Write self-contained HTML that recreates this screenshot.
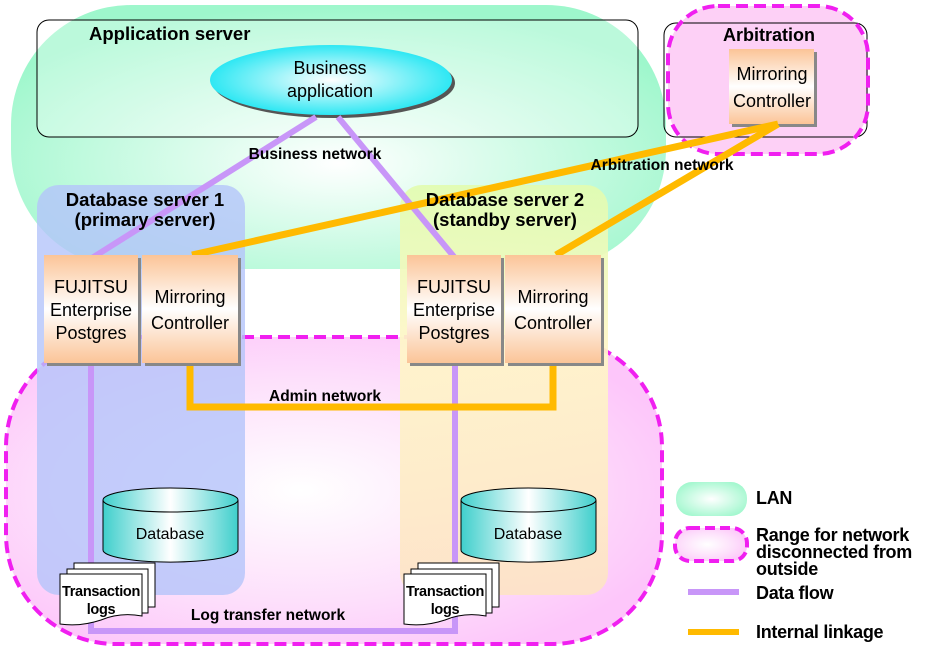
<!DOCTYPE html>
<html><head><meta charset="utf-8"><style>
html,body{margin:0;padding:0;background:#fff;}
svg{display:block;font-family:"Liberation Sans",Arial,sans-serif;}
.b{font-weight:bold;}
</style></head><body>
<svg width="932" height="650" viewBox="0 0 932 650" xmlns="http://www.w3.org/2000/svg">
<defs>
<radialGradient id="lan" cx="0.5" cy="0.6" r="0.6">
<stop offset="0" stop-color="#ffffff"/><stop offset="1" stop-color="#9ef7cc"/></radialGradient>
<radialGradient id="pink" cx="0.45" cy="0.5" r="0.6">
<stop offset="0" stop-color="#ffffff"/><stop offset="0.6" stop-color="#fde0fb"/><stop offset="1" stop-color="#fdc6fa"/></radialGradient>
<radialGradient id="ell" cx="0.5" cy="0.5" r="0.55">
<stop offset="0" stop-color="#ffffff"/><stop offset="1" stop-color="#19e5f2"/></radialGradient>
<linearGradient id="box" x1="0" y1="0" x2="0" y2="1">
<stop offset="0" stop-color="#fbc497"/><stop offset="0.5" stop-color="#ffffff"/><stop offset="1" stop-color="#fbc497"/></linearGradient>
<linearGradient id="cyl" x1="0" y1="0" x2="1" y2="0">
<stop offset="0" stop-color="#3fcfcc"/><stop offset="0.5" stop-color="#ffffff"/><stop offset="1" stop-color="#3fcfcc"/></linearGradient>
<linearGradient id="db2" x1="0" y1="0" x2="0" y2="1">
<stop offset="0" stop-color="#e2fcb0"/><stop offset="0.4" stop-color="#fff6c8"/><stop offset="1" stop-color="#fde3c6"/></linearGradient>
</defs>

<!-- LAN -->
<rect x="11" y="5" width="655" height="264" rx="120" fill="url(#lan)"/>
<!-- Pink big region -->
<rect x="6" y="337" width="656" height="307" rx="110" fill="url(#pink)" stroke="#f01ff0" stroke-width="4" stroke-dasharray="12,6"/>
<!-- Arbitration pink -->
<rect x="668" y="6" width="200" height="148" rx="50" fill="#fdd0f6"/>
<rect x="664" y="23" width="203" height="114" rx="12" fill="none" stroke="#000" stroke-width="1"/>
<rect x="668" y="6" width="200" height="148" rx="50" fill="none" stroke="#f01ff0" stroke-width="4" stroke-dasharray="12,6"/>

<!-- DB servers -->
<rect x="37" y="185" width="208" height="410" rx="22" fill="#b4c4fa" fill-opacity="0.8"/>
<rect x="400" y="185" width="208" height="410" rx="22" fill="url(#db2)" fill-opacity="0.92"/>

<!-- App server -->
<rect x="37" y="20" width="601" height="117" rx="12" fill="#ffffff" fill-opacity="0.3" stroke="#000" stroke-width="1"/>
<text x="89" y="40" font-size="18.5" class="b">Application server</text>
<ellipse cx="334" cy="83" rx="121" ry="35" fill="#555"/>
<ellipse cx="331" cy="80" rx="121" ry="35" fill="url(#ell)"/>
<text x="330" y="74" font-size="18" text-anchor="middle">Business</text>
<text x="330" y="97" font-size="18" text-anchor="middle">application</text>

<text x="723" y="41" font-size="18" class="b">Arbitration</text>
<rect x="732" y="52" width="85" height="75" fill="#888"/>
<rect x="729" y="49" width="85" height="75" fill="url(#box)"/>
<text x="772" y="80" font-size="18" text-anchor="middle">Mirroring</text>
<text x="772" y="107" font-size="18" text-anchor="middle">Controller</text>

<!-- Lines -->
<g stroke="#c896f8" stroke-width="6" fill="none">
<line x1="316" y1="117" x2="92" y2="258"/>
<line x1="338" y1="117" x2="455" y2="258"/>
<polyline points="91,364 91,631 455,631 455,364"/>
</g>
<g stroke="#ffba00" stroke-width="7" fill="none">
<line x1="192" y1="255" x2="778" y2="124"/>
<line x1="556" y1="255" x2="778" y2="124"/>
<polyline points="190,364 190,407 553,407 553,364"/>
</g>

<text x="315" y="159" font-size="15.5" class="b" text-anchor="middle">Business network</text>
<text x="662" y="170" font-size="15.5" class="b" text-anchor="middle">Arbitration network</text>
<text x="145" y="206" font-size="18.5" class="b" text-anchor="middle">Database server 1</text>
<text x="145" y="226" font-size="18.5" class="b" text-anchor="middle">(primary server)</text>
<text x="505" y="206" font-size="18.5" class="b" text-anchor="middle">Database server 2</text>
<text x="505" y="226" font-size="18.5" class="b" text-anchor="middle">(standby server)</text>
<text x="325" y="401" font-size="15.5" class="b" text-anchor="middle">Admin network</text>
<text x="268" y="620" font-size="15.5" class="b" text-anchor="middle">Log transfer network</text>

<!-- Boxes -->
<g font-size="18" text-anchor="middle">
<rect x="47" y="258" width="94" height="108" fill="#888"/>
<rect x="44" y="255" width="94" height="108" fill="url(#box)"/>
<text x="91" y="293">FUJITSU</text><text x="91" y="316">Enterprise</text><text x="91" y="339">Postgres</text>
<rect x="145" y="258" width="96" height="108" fill="#888"/>
<rect x="142" y="255" width="96" height="108" fill="url(#box)"/>
<text x="190" y="303">Mirroring</text><text x="190" y="329">Controller</text>
<rect x="410" y="258" width="94" height="108" fill="#888"/>
<rect x="407" y="255" width="94" height="108" fill="url(#box)"/>
<text x="454" y="293">FUJITSU</text><text x="454" y="316">Enterprise</text><text x="454" y="339">Postgres</text>
<rect x="508" y="258" width="96" height="108" fill="#888"/>
<rect x="505" y="255" width="96" height="108" fill="url(#box)"/>
<text x="553" y="303">Mirroring</text><text x="553" y="329">Controller</text>
</g>

<!-- Cylinders -->
<g stroke="#000" stroke-width="1">
<path d="M103,500 L103,550 A67,12 0 0 0 238,550 L238,500" fill="url(#cyl)"/>
<ellipse cx="170.5" cy="500" rx="67.5" ry="12" fill="url(#cyl)"/>
<path d="M461,500 L461,550 A67,12 0 0 0 596,550 L596,500" fill="url(#cyl)"/>
<ellipse cx="528.5" cy="500" rx="67.5" ry="12" fill="url(#cyl)"/>
</g>
<text x="170" y="539" font-size="16" text-anchor="middle">Database</text>
<text x="528" y="539" font-size="16" text-anchor="middle">Database</text>

<!-- Transaction logs -->
<g stroke="#000" stroke-width="1" fill="#fff">
<rect x="74" y="563" width="81" height="44"/>
<rect x="67" y="569" width="81" height="44"/>
<path d="M60,574 H142 V616 Q120,612 101,620 Q80,627 60,624 Z"/>
<rect x="418" y="563" width="81" height="44"/>
<rect x="411" y="569" width="81" height="44"/>
<path d="M404,574 H486 V616 Q464,612 445,620 Q424,627 404,624 Z"/>
</g>
<g font-size="14.5" class="b" text-anchor="middle" letter-spacing="-0.3">
<text x="101" y="596">Transaction</text><text x="101" y="614">logs</text>
<text x="445" y="596">Transaction</text><text x="445" y="614">logs</text>
</g>

<!-- Legend -->
<defs><radialGradient id="lg" cx="0.5" cy="0.5" r="0.6"><stop offset="0" stop-color="#fff"/><stop offset="1" stop-color="#9ef7cc"/></radialGradient></defs>
<rect x="676" y="482" width="71" height="34" rx="16" fill="url(#lg)"/>
<rect x="675" y="528" width="72" height="33" rx="15" fill="url(#pink)" stroke="#f01ff0" stroke-width="4" stroke-dasharray="10,5"/>
<rect x="688" y="589" width="51" height="6" fill="#c896f8"/>
<rect x="688" y="629" width="51" height="6" fill="#ffba00"/>
<g font-size="18" class="b" letter-spacing="-0.3">
<text x="756" y="504">LAN</text>
<text x="756" y="541">Range for network</text>
<text x="756" y="558">disconnected from</text>
<text x="756" y="575">outside</text>
<text x="756" y="599">Data flow</text>
<text x="756" y="638">Internal linkage</text>
</g>
</svg>
</body></html>
